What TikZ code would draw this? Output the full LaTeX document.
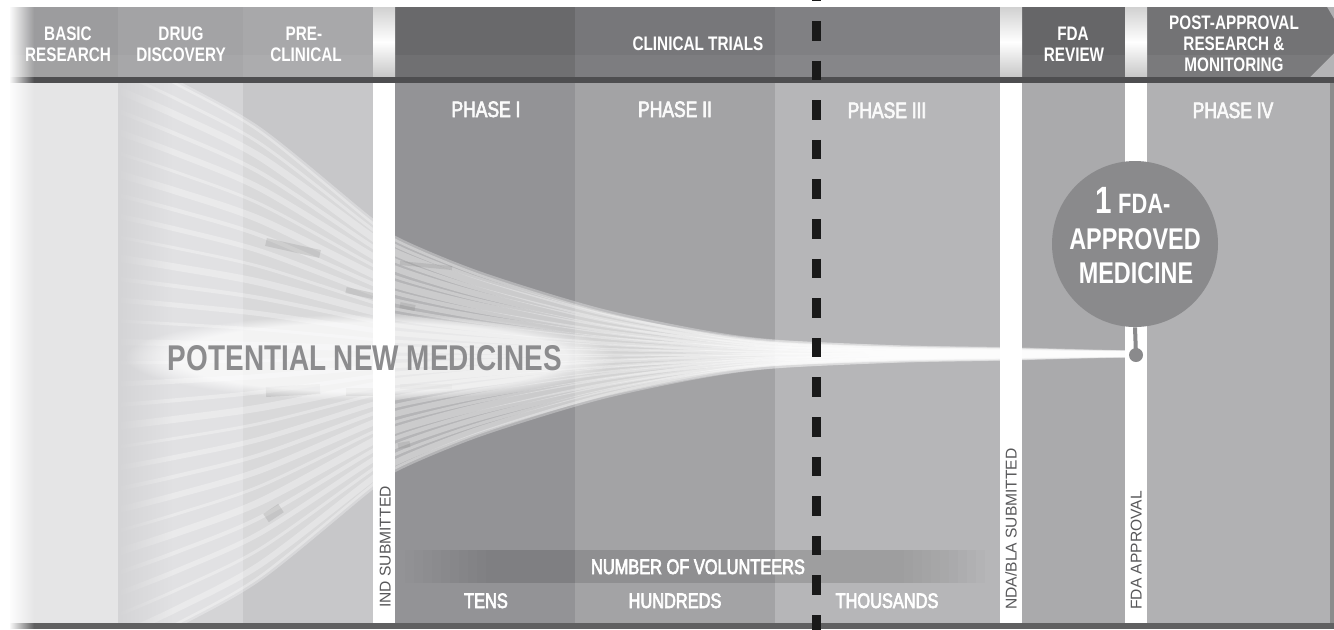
\documentclass[tikz,border=0pt]{standalone}
\usepackage{fontspec}
\setmainfont{Liberation Sans}[FakeStretch=0.78]
\newfontfamily\medsans{Liberation Sans}[FakeStretch=0.78, FakeBold=3]
\newfontfamily\plainsans{Liberation Sans}
\usetikzlibrary{fadings}
\tikzfading[name=fadeRight, left color=transparent!0, right color=transparent!100]
\definecolor{bBR}{HTML}{E5E5E6}
\definecolor{bDD}{HTML}{D4D4D6}
\definecolor{bPC}{HTML}{C7C7C9}
\definecolor{bPa}{HTML}{939396}
\definecolor{bPb}{HTML}{A3A3A5}
\definecolor{bPc}{HTML}{B6B6B8}
\definecolor{bFR}{HTML}{AAAAAC}
\definecolor{bPd}{HTML}{B1B1B3}
\definecolor{hBR}{HTML}{9C9C9E}
\definecolor{hDD}{HTML}{A3A3A5}
\definecolor{hPC}{HTML}{A8A8AA}
\definecolor{hCTa}{HTML}{69696B}
\definecolor{hCTb}{HTML}{77777A}
\definecolor{hCTc}{HTML}{808083}
\definecolor{hFR}{HTML}{666668}
\definecolor{hPA}{HTML}{737375}
\definecolor{rulec}{HTML}{4E4E50}
\definecolor{vtext}{HTML}{58585A}
\definecolor{pnm}{HTML}{8C8C8E}
\definecolor{medc}{HTML}{8A8A8C}
\tikzset{
  hdr/.style={font=\bfseries\fontsize{9.8}{10}\selectfont, text=white, anchor=base, inner sep=0pt},
  phase/.style={font=\medsans\fontsize{11.2}{12}\selectfont, text=white!96!gray, anchor=base, inner sep=0pt},
  vol/.style={font=\medsans\fontsize{10.5}{12}\selectfont, text=white, anchor=base, inner sep=0pt},
  vert/.style={font=\plainsans\fontsize{7.8}{9}\selectfont, text=vtext, rotate=90, anchor=base west, inner sep=0pt},
  medtxt/.style={font=\bfseries\fontsize{15}{16}\selectfont, text=white, anchor=base, inner sep=0pt},
  strand/.style={white, opacity=.3},
  graybar/.style={gray, opacity=.22, line cap=butt},
  whitestrip/.style={fill=white},
  hdrstrip/.style={top color=black!18, bottom color=black!22, middle color=white},
  hdrshade/.style={top color=black!6, bottom color=white, opacity=.12}
}
\begin{document}
\begin{tikzpicture}[x=0.5pt,y=-0.5pt]
\useasboundingbox (0,0) rectangle (1334,629);
% ---------- body columns ----------
\fill[bBR] (0,83) rectangle (118,623);
\fill[bDD] (118,83) rectangle (243,623);
\fill[bPC] (243,83) rectangle (373,623);
\fill[bPa] (395,83) rectangle (575,623);
\fill[bPb] (575,83) rectangle (775,623);
\fill[bPc] (775,83) rectangle (1000,623);
\fill[bFR] (1022,83) rectangle (1125,623);
\fill[bPd] (1147,83) rectangle (1330,623);
\fill[black!45] (1330,83) rectangle (1334,623);
% ---------- funnel of candidates ----------
\begin{scope}
\clip (118,83) rectangle (1334,623);
\fill[white, opacity=.32]
  plot[smooth] coordinates {(118,54) (177,83) (260,130) (367,217) (398,240) (480,274) (597,310) (700,332) (775,342) (900,348) (1000,350) (1065,352) (1130,354)}
  -- plot[smooth] coordinates {(1065,356) (1000,358) (900,360) (775,366) (700,376) (597,398) (480,434) (398,468) (367,491) (260,578) (177,625) (118,654)}
  -- cycle;
\foreach \k/\w in {1/2.5,.94/1.5,.88/3.5,.81/2,.74/3,.67/1.5,.6/3.5,.53/2,.46/2.5,.39/1.5,.32/3.5,.25/2,.18/2.5,.11/1.5,.04/3,-.03/1.5,-.1/2.5,-.17/2,-.24/3.5,-.31/1.5,-.38/2.5,-.45/2,-.52/3,-.59/1.5,-.66/3.5,-.73/2,-.8/2.5,-.87/1.5,-.94/3,-1/2.5}
{
  \draw[strand, line width=\w pt] plot[smooth] coordinates {
    (118,{354-300*(\k)}) (177,{354-271*(\k)}) (260,{354-224*(\k)}) (367,{354-137*(\k)})
    (398,{354-114*(\k)}) (480,{354-80*(\k)}) (597,{354-44*(\k)}) (700,{354-22*(\k)})
    (775,{354-12*(\k)}) (900,{354-6*(\k)}) (1000,{354-4*(\k)}) (1065,{354-2*(\k)}) (1130,354)};
}
\draw[graybar, line width=4pt] (266,242) -- (320,254);
\draw[graybar, line width=3pt] (346,290) -- (373,296);
\draw[graybar, line width=3pt] (400,305) -- (415,308);
\draw[graybar, line width=2pt] (400,263) -- (452,268);
\draw[graybar, line width=5pt] (266,392) -- (320,389);
\draw[graybar, line width=4pt] (346,392) -- (373,392);
\draw[graybar, line width=2.5pt] (400,386) -- (452,386);
\draw[graybar, line width=3pt] (398,446) -- (410,444);
\draw[graybar, line width=5pt] (266,518) -- (281,508);
\end{scope}
\fill[bDD, path fading=fadeRight] (118,83) rectangle (172,623);
% ---------- milestone strips (body) ----------
\fill[whitestrip] (373,83) rectangle (395,623);
\fill[whitestrip] (1000,83) rectangle (1022,623);
\fill[whitestrip] (1125,83) rectangle (1147,623);
% ---------- potential new medicines ----------
\fill[white, opacity=.7, path fading=circle with fuzzy edge 20 percent] (125,314) rectangle (615,400);
\node[font=\bfseries\fontsize{17.9}{18}\selectfont, text=pnm, anchor=base, inner sep=0pt] (pnmtext) at (365,370) {POTENTIAL NEW MEDICINES};
% ---------- phase labels ----------
\node[phase] (ph1) at (486,117) {PHASE I};
\node[phase] (ph2) at (675,117) {PHASE II};
\node[phase] (ph3) at (887,118) {PHASE III};
\node[phase] (ph4) at (1233,118) {PHASE IV};
% ---------- volunteers ----------
\foreach \i in {0,...,9}
  \fill[black, opacity=.011] ({405+\i*9},550) rectangle ({985-\i*9},583);
\node[vol] (volu) at (698,574) {NUMBER OF VOLUNTEERS};
\node[vol] (tens) at (486,608) {TENS};
\node[vol] (hund) at (675,608) {HUNDREDS};
\node[vol] (thou) at (887,608) {THOUSANDS};
% ---------- vertical milestone labels ----------
\node[vert] (ind) at (390.5,608) {IND SUBMITTED};
\node[vert] (nda) at (1016.5,610) {NDA/BLA SUBMITTED};
\node[vert] (fdaapp) at (1141.5,610) {FDA APPROVAL};
% ---------- header ----------
\fill[hBR] (0,7) rectangle (118,77);
\fill[hDD] (118,7) rectangle (243,77);
\fill[hPC] (243,7) rectangle (373,77);
\fill[hCTa] (395,7) rectangle (575,77);
\fill[hCTb] (575,7) rectangle (775,77);
\fill[hCTc] (775,7) rectangle (1000,77);
\fill[hFR] (1022,7) rectangle (1125,77);
\fill[bPd] (1147,7) rectangle (1334,77);
\fill[hPA] (1147,7) -- (1327,7) -- (1334,19) -- (1334,53) -- (1310,77) -- (1147,77) -- cycle;
\fill[white, opacity=.05] (0,55) rectangle (1334,77);
\shade[hdrstrip] (373,7) rectangle (395,77);
\shade[hdrstrip] (1000,7) rectangle (1022,77);
\shade[hdrstrip] (1125,7) rectangle (1147,77);
\fill[rulec] (0,77) rectangle (1334,83);
\fill[rulec!90!white] (0,623) rectangle (1334,629);
\node[hdr] (h1a) at (68,40) {BASIC};
\node[hdr] (h1b) at (68,61) {RESEARCH};
\node[hdr] (h2a) at (181,40) {DRUG};
\node[hdr] (h2b) at (181,61) {DISCOVERY};
\node[hdr] (h3a) at (304,40) {PRE-};
\node[hdr] (h3b) at (306,61) {CLINICAL};
\node[hdr] (h4) at (698,50) {CLINICAL TRIALS};
\node[hdr] (h5a) at (1073,40) {FDA};
\node[hdr] (h5b) at (1074,61) {REVIEW};
\node[hdr] (h6a) at (1234,29) {POST-APPROVAL};
\node[hdr] (h6b) at (1234,50) {RESEARCH \&};
\node[hdr] (h6c) at (1234,71) {MONITORING};
% ---------- approved medicine ----------
\node[circle, fill=medc, minimum size=83pt, inner sep=0pt] (med) at (1135,244) {};
\node[circle, fill=medc, minimum size=7pt, inner sep=0pt] (dot) at (1136,355) {};
\draw[medc, line width=2pt] (med.south) -- (dot.center);
\node[medtxt, font=\bfseries\fontsize{14}{14}\selectfont] (m1) at (1133,213) {{\fontsize{19}{19}\selectfont 1} FDA-};
\node[medtxt] (m2) at (1135,249) {APPROVED};
\node[medtxt] (m3) at (1136,283) {MEDICINE};
% ---------- dashed divider ----------
\coordinate (dtop) at (816,-18.6);
\coordinate (dbot) at (816,650);
\draw[black!90, line width=4.5pt, dash pattern=on 9.75pt off 10.05pt] (dtop) -- (dbot);
% ---------- left edge fade ----------
\fill[white] (0,0) rectangle (9,629);
\fill[white, path fading=fadeRight] (9,0) rectangle (34,629);
\end{tikzpicture}
\end{document}
